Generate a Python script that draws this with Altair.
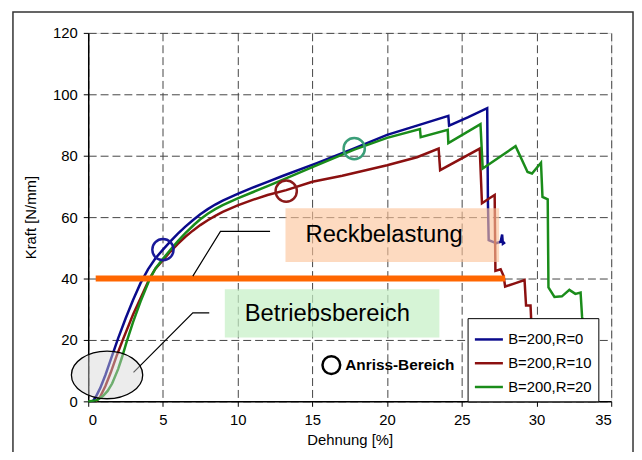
import altair as alt
import pandas as pd

# ---- data ----
series_names = ["B=200,R=0", "B=200,R=10", "B=200,R=20"]
series_colors = ["#0a0a8c", "#8b1010", "#1a8c1a"]

blue_x = [0.3, 0.5, 0.8, 1.15, 1.5, 2.0, 2.5, 3.0, 3.5, 4.0, 4.5, 5.0, 5.5, 6.0, 6.5, 7.0, 7.5, 8.0, 8.5, 9.0,
          10.0, 11.0, 12.0, 13.0, 15.3, 17.8, 20.0, 22.0, 24.1, 24.15, 25.4, 26.7, 26.75, 26.8, 27.3, 27.6,
          27.7, 27.75, 27.9]
blue_y = [0.0, 1.4, 4.3, 8.6, 13.5, 20.5, 27.0, 33.0, 38.5, 43.0, 46.6, 49.4, 52.1, 54.6, 56.9, 59.0, 60.9, 62.6,
          64.1, 65.4, 67.6, 69.6, 71.5, 73.4, 77.6, 82.4, 86.8, 89.8, 93.0, 89.8, 92.5, 95.5, 64.6, 52.5, 51.5,
          52.0, 54.3, 51.3, 51.8]

red_x = [0.5, 0.8, 1.15, 1.5, 1.9, 2.36, 3.0, 3.5, 4.1, 4.5, 5.0, 5.5, 6.0, 6.5, 7.0, 7.5, 8.0, 8.5, 9.0, 10.0,
         11.0, 12.0, 13.25, 15.0, 17.0, 20.0, 22.0, 23.45, 23.55, 26.2, 26.35, 26.8, 27.2, 27.25, 27.6, 27.8,
         27.9, 28.6, 29.2, 29.3, 29.6, 29.65]
red_y = [0.0, 1.5, 5.0, 9.3, 14.8, 20.6, 28.3, 33.6, 40.0, 43.2, 46.0, 48.8, 51.3, 53.6, 55.6, 57.4, 59.0, 60.4,
         61.7, 63.8, 65.6, 67.2, 68.8, 71.5, 73.5, 76.9, 79.5, 82.3, 75.3, 82.3, 64.5, 66.0, 67.2, 42.5, 43.0,
         40.8, 37.4, 38.5, 39.5, 31.2, 31.2, 26.0]

green_x = [0.0, 0.6, 1.0, 1.3, 1.6, 2.0, 2.25, 2.58, 3.0, 3.5, 4.13, 4.5, 5.0, 5.5, 6.0, 6.5, 7.1, 7.5, 8.0, 8.5,
           9.0, 10.0, 11.0, 12.0, 13.0, 15.0, 17.8, 20.0, 22.2, 22.25, 24.06, 24.1, 26.25, 26.4, 28.6, 29.4,
           29.7, 30.3, 30.4, 30.75, 30.8, 31.2, 31.7, 32.2, 32.6, 32.95, 33.05, 33.1]
green_y = [0.0, 0.4, 1.8, 3.4, 5.8, 10.5, 14.2, 19.5, 25.8, 32.5, 40.0, 43.3, 46.4, 49.4, 52.2, 54.8, 57.6, 59.3,
           61.1, 62.6, 63.9, 66.1, 68.1, 70.1, 72.1, 76.3, 82.0, 85.8, 88.7, 86.0, 88.4, 84.1, 90.3, 75.8, 83.1,
           74.7, 74.2, 77.7, 66.6, 65.8, 37.1, 34.0, 34.2, 36.3, 35.0, 35.4, 27.5, 26.0]

x_ticks = [0, 5, 10, 15, 20, 25, 30, 35]
y_ticks = [0, 20, 40, 60, 80, 100, 120]

# annotations
reck_line_x = [0.5, 27.9]
reck_line_y = 40
reck_box = dict(x=13.2, x2=27.5, y=45.4, y2=62.9)
betr_box = dict(x=9.14, x2=23.5, y=20.8, y2=36.5)
labels_text = ["Reckbelastung", "Betriebsbereich"]
labels_x = [19.8, 16.0]
labels_y = [54.0, 28.5]
leader_x = [12.17, 8.85, 7.0, 8.1, 7.0, 3.03]
leader_y = [55.35, 55.35, 40.8, 28.8, 28.8, 9.45]
leader_id = ["a", "a", "a", "b", "b", "b"]
crack_x = [5.0, 13.25, 17.8]
crack_y = [49.4, 68.5, 82.3]
crack_colors = ["#1a1a9a", "#8b1a1a", "#3a9e78"]
ellipse_center = (1.26, 8.6)
anriss_marker = (16.27, 11.8)
anriss_text = (17.2, 11.8)

# ---- build tables ----
rows = []
for name, xs, ys in zip(series_names, [blue_x, red_x, green_x], [blue_y, red_y, green_y]):
    for i, (a, b) in enumerate(zip(xs, ys)):
        rows.append({"series": name, "x": a, "y": b, "i": i})
curves_df = pd.DataFrame(rows)

X = alt.X("x:Q", scale=alt.Scale(domain=[0, 35], nice=False, zero=False),
          axis=alt.Axis(values=x_ticks, title="Dehnung [%]", grid=True, gridDash=[8, 4], gridColor="#444",
                        gridWidth=1, tickSize=5, tickColor="black", domainColor="black", domainWidth=1.5,
                        labelFontSize=15, labelPadding=6, titleFontSize=15, titlePadding=6,
                        labelColor="black", titleColor="black", titleFontWeight="normal"))
Y = alt.Y("y:Q", scale=alt.Scale(domain=[0, 120], nice=False, zero=False),
          axis=alt.Axis(values=y_ticks, title="Kraft [N/mm]", grid=True, gridDash=[8, 4], gridColor="#444",
                        gridWidth=1, tickSize=5, tickColor="black", domainColor="black", domainWidth=1.5,
                        labelFontSize=15, labelPadding=6, titleFontSize=15, titlePadding=14,
                        labelColor="black", titleColor="black", titleFontWeight="normal"))

frame = alt.Chart(pd.DataFrame({"a": [0]})).mark_rect(fill=None, stroke="#333", strokeWidth=1.5).encode(
    x=alt.value(-76), x2=alt.value(550), y=alt.value(-21), y2=alt.value(440))

curves = alt.Chart(curves_df).mark_line(strokeWidth=2.5, interpolate="linear").encode(
    x=X, y=Y, order="i:Q",
    color=alt.Color("series:N", scale=alt.Scale(domain=series_names, range=series_colors),
                    legend=alt.Legend(title=None, orient="none", legendX=383, legendY=288,
                                      strokeColor="black", fillColor="white", padding=6,
                                      symbolType="stroke", symbolStrokeWidth=2.5, symbolSize=800,
                                      labelFontSize=15, labelFont="Liberation Sans", labelColor="black",
                                      rowPadding=0, labelOffset=4)))

orange_line = alt.Chart(pd.DataFrame({"x": [reck_line_x[0]], "x2": [reck_line_x[1]], "y": [reck_line_y]})).mark_rule(
    color="#ff6600", strokeWidth=6).encode(x="x:Q", x2="x2:Q", y="y:Q")

reck_rect = alt.Chart(pd.DataFrame([reck_box])).mark_rect(fill="#fbc49a", opacity=0.62).encode(
    x="x:Q", x2="x2:Q", y="y:Q", y2="y2:Q")
betr_rect = alt.Chart(pd.DataFrame([betr_box])).mark_rect(fill="#c4f0c4", opacity=0.7).encode(
    x="x:Q", x2="x2:Q", y="y:Q", y2="y2:Q")

texts = alt.Chart(pd.DataFrame({"t": labels_text, "x": labels_x, "y": labels_y})).mark_text(
    fontSize=24, font="Liberation Sans", color="black").encode(x="x:Q", y="y:Q", text="t:N")

leaders = alt.Chart(pd.DataFrame({"x": leader_x, "y": leader_y, "id": leader_id,
                                  "i": list(range(len(leader_x)))})).mark_line(
    color="black", strokeWidth=1.2).encode(x="x:Q", y="y:Q", detail="id:N", order="i:Q")

ellipse_path = ("M 1 0 C 1 0.368 0.552 0.667 0 0.667 C -0.552 0.667 -1 0.368 -1 0 "
                "C -1 -0.368 -0.552 -0.667 0 -0.667 C 0.552 -0.667 1 -0.368 1 0 Z")
ellipse = alt.Chart(pd.DataFrame({"x": [ellipse_center[0]], "y": [ellipse_center[1]]})).mark_point(
    shape=ellipse_path, size=5184, filled=True, fill="#d4d4d4", fillOpacity=0.45, stroke="black",
    strokeWidth=1.3, opacity=1).encode(x="x:Q", y="y:Q")

circles = alt.Chart(pd.DataFrame({"x": crack_x, "y": crack_y, "c": crack_colors})).mark_point(
    shape="circle", size=460, strokeWidth=2.5, filled=False, opacity=1).encode(
    x="x:Q", y="y:Q", stroke=alt.Stroke("c:N", scale=None))

anriss_pt = alt.Chart(pd.DataFrame({"x": [anriss_marker[0]], "y": [anriss_marker[1]]})).mark_point(
    shape="circle", size=320, strokeWidth=2.5, filled=False, color="black", opacity=1).encode(x="x:Q", y="y:Q")
anriss_lbl = alt.Chart(pd.DataFrame({"x": [anriss_text[0]], "y": [anriss_text[1]], "t": ["Anriss-Bereich"]})).mark_text(
    align="left", fontSize=15.5, fontWeight="bold", font="Liberation Sans", color="black").encode(
    x="x:Q", y="y:Q", text="t:N")

chart = alt.layer(frame, curves, orange_line, reck_rect, betr_rect, texts, leaders, ellipse, circles,
                  anriss_pt, anriss_lbl).properties(
    width=528, height=372,
    autosize=alt.AutoSizeParams(type="none"),
    padding={"left": 81, "top": 23, "right": 23, "bottom": 49},
).configure_view(stroke=None).configure(font="Liberation Sans")

chart.save("out.html", embed_options={"renderer": "svg", "actions": False})
